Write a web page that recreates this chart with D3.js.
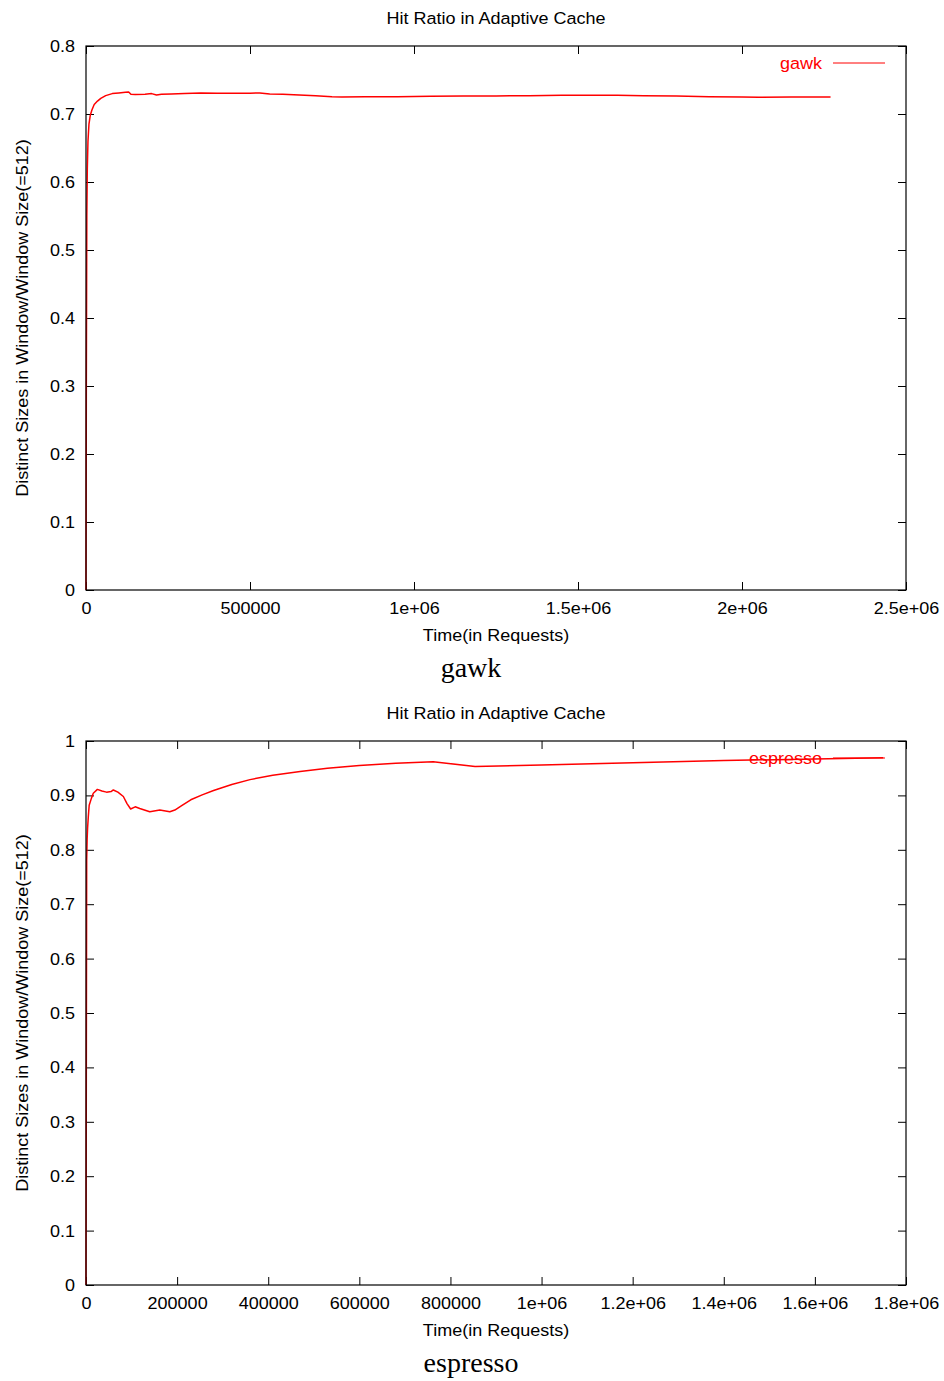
<!DOCTYPE html>
<html>
<head>
<meta charset="utf-8">
<script src="https://cdn.jsdelivr.net/npm/d3@7/dist/d3.min.js"></script>
<style>
  html, body { margin: 0; padding: 0; background: #fff; }
  svg { display: block; }
  .sans { font-family: "Liberation Sans", Arial, Helvetica, sans-serif; font-size: 17px; }
  .serif { font-family: "Liberation Serif", "Times New Roman", serif; font-size: 28px; }
</style>
</head>
<body>
<svg id="chart" width="944" height="1381"></svg>
<script>
// ---- gawk run: hit ratio over time ----
const gawkTime = [0, 1000, 2500, 4000, 6000, 9000, 13000, 18000, 25000, 35000, 45000, 60000, 80000,
  100000, 120000, 130000, 137000, 150000, 180000, 200000, 215000, 230000, 260000, 300000, 350000,
  400000, 450000, 500000, 530000, 560000, 600000, 650000, 700000, 750000, 780000, 850000, 950000,
  1050000, 1150000, 1250000, 1350000, 1450000, 1550000, 1620000, 1700000, 1800000, 1900000,
  2000000, 2050000, 2150000, 2270000];
const gawkRatio = [0, 0.30, 0.55, 0.62, 0.66, 0.685, 0.698, 0.706, 0.714, 0.719, 0.723, 0.727, 0.730,
  0.731, 0.732, 0.7325, 0.729, 0.7285, 0.729, 0.730, 0.728, 0.729, 0.7295, 0.730, 0.731,
  0.7305, 0.7305, 0.7305, 0.731, 0.7295, 0.729, 0.728, 0.727, 0.7255, 0.725, 0.7255, 0.7255,
  0.726, 0.7265, 0.7265, 0.727, 0.7275, 0.7275, 0.7275, 0.727, 0.7265, 0.7255,
  0.725, 0.7245, 0.725, 0.725];
const gawkXTicks = [0, 500000, 1000000, 1500000, 2000000, 2500000];
const gawkXTickLabels = ["0", "500000", "1e+06", "1.5e+06", "2e+06", "2.5e+06"];
const gawkYTicks = [0, 0.1, 0.2, 0.3, 0.4, 0.5, 0.6, 0.7, 0.8];
const gawkYTickLabels = ["0", "0.1", "0.2", "0.3", "0.4", "0.5", "0.6", "0.7", "0.8"];

// ---- espresso run: hit ratio over time ----
const espressoTime = [0, 800, 1500, 2500, 3500, 5000, 7000, 12000, 16000, 25000, 35000, 45000, 55000,
  60000, 70000, 82000, 90000, 98000, 108000, 118000, 140000, 162000, 184000, 195000, 210000,
  230000, 255000, 280000, 320000, 360000, 410000, 470000, 530000, 600000, 680000, 762000,
  854000, 1000000, 1200000, 1400000, 1600000, 1750000];
const espressoRatio = [0, 0.45, 0.78, 0.82, 0.84, 0.86, 0.882, 0.895, 0.904, 0.911, 0.908, 0.906, 0.907,
  0.910, 0.906, 0.898, 0.885, 0.875, 0.879, 0.876, 0.870, 0.873, 0.870, 0.873, 0.881,
  0.892, 0.901, 0.909, 0.920, 0.929, 0.937, 0.944, 0.950, 0.955, 0.959, 0.962,
  0.953, 0.956, 0.960, 0.964, 0.967, 0.969];
const espressoXTicks = [0, 200000, 400000, 600000, 800000, 1000000, 1200000, 1400000, 1600000, 1800000];
const espressoXTickLabels = ["0", "200000", "400000", "600000", "800000", "1e+06", "1.2e+06", "1.4e+06", "1.6e+06", "1.8e+06"];
const espressoYTicks = [0, 0.1, 0.2, 0.3, 0.4, 0.5, 0.6, 0.7, 0.8, 0.9, 1];
const espressoYTickLabels = ["0", "0.1", "0.2", "0.3", "0.4", "0.5", "0.6", "0.7", "0.8", "0.9", "1"];

const chartTitle = "Hit Ratio in Adaptive Cache";
const xAxisTitle = "Time(in Requests)";
const yAxisTitle = "Distinct Sizes in Window/Window Size(=512)";

const svg = d3.select("#chart");
const STRETCH = 1.06;   // slightly wide sans lettering
const LEFT = 86, RIGHT = 906, TICK = 8;
const RED = "#ff0000";

function sansText(g, x, y, str, anchor, rotate, color) {
  return g.append("text")
    .attr("class", "sans")
    .attr("text-anchor", anchor)
    .style("fill", color || "#000")
    .attr("transform", `translate(${x},${y})` + (rotate ? ` rotate(${rotate})` : "") + ` scale(${STRETCH},1)`)
    .text(str);
}

function drawPanel(p) {
  const g = svg.append("g");
  const x = d3.scaleLinear().domain([0, p.xMax]).range([LEFT, RIGHT]);
  const y = d3.scaleLinear().domain([0, p.yMax]).range([p.bottom, p.top]);

  // ticks on all four sides, pointing inward
  const bottomAxis = g.append("g").attr("transform", `translate(0,${p.bottom})`)
    .call(d3.axisBottom(x).tickValues(p.xTicks).tickSizeInner(-TICK).tickSizeOuter(0).tickPadding(12)
      .tickFormat((d, i) => p.xLabels[i]));
  const topAxis = g.append("g").attr("transform", `translate(0,${p.top})`)
    .call(d3.axisTop(x).tickValues(p.xTicks).tickSizeInner(-TICK).tickSizeOuter(0).tickFormat(""));
  const leftAxis = g.append("g").attr("transform", `translate(${LEFT},0)`)
    .call(d3.axisLeft(y).tickValues(p.yTicks).tickSizeInner(-TICK).tickSizeOuter(0).tickPadding(10.4)
      .tickFormat((d, i) => p.yLabels[i]));
  const rightAxis = g.append("g").attr("transform", `translate(${RIGHT},0)`)
    .call(d3.axisRight(y).tickValues(p.yTicks).tickSizeInner(-TICK).tickSizeOuter(0).tickFormat(""));

  [bottomAxis, topAxis, leftAxis, rightAxis].forEach(a => {
    a.attr("font-size", null).attr("font-family", null);
    a.select(".domain").remove();
    a.selectAll("line").attr("stroke", "#000").attr("stroke-width", 1);
    a.selectAll("text").attr("class", "sans").style("fill", "#000")
      .attr("transform", `scale(${STRETCH},1)`);
  });
  leftAxis.selectAll("text").attr("dy", "0.32em");

  // data curve
  const line = d3.line().x(d => x(d[0])).y(d => y(d[1]));
  g.append("path")
    .datum(p.time.map((t, i) => [t, p.ratio[i]]))
    .attr("fill", "none").attr("stroke", RED).attr("stroke-width", 1.5)
    .attr("stroke-linejoin", "round")
    .attr("d", line);

  // plot border
  g.append("rect")
    .attr("x", LEFT).attr("y", p.top)
    .attr("width", RIGHT - LEFT).attr("height", p.bottom - p.top)
    .attr("fill", "none").attr("stroke", "#000").attr("stroke-width", 1.2);

  // key
  const keyY = p.top + 17;
  sansText(g, 822, keyY + 6, p.name, "end", 0, RED);
  g.append("line").attr("x1", 833).attr("x2", 885).attr("y1", keyY).attr("y2", keyY)
    .attr("stroke", RED).attr("stroke-width", 1);

  // titles
  sansText(g, (LEFT + RIGHT) / 2, p.top - 22, chartTitle, "middle");
  sansText(g, (LEFT + RIGHT) / 2, p.bottom + 51, xAxisTitle, "middle");
  sansText(g, 28, (p.top + p.bottom) / 2, yAxisTitle, "middle", -90);
  g.append("text").attr("class", "serif").attr("text-anchor", "middle").style("fill", "#000")
    .attr("x", 471).attr("y", p.bottom + 87).text(p.name);
}

drawPanel({
  name: "gawk", top: 46, bottom: 590, xMax: 2500000, yMax: 0.8,
  time: gawkTime, ratio: gawkRatio,
  xTicks: gawkXTicks, xLabels: gawkXTickLabels, yTicks: gawkYTicks, yLabels: gawkYTickLabels
});
drawPanel({
  name: "espresso", top: 741, bottom: 1285, xMax: 1800000, yMax: 1,
  time: espressoTime, ratio: espressoRatio,
  xTicks: espressoXTicks, xLabels: espressoXTickLabels, yTicks: espressoYTicks, yLabels: espressoYTickLabels
});
</script>
</body>
</html>
